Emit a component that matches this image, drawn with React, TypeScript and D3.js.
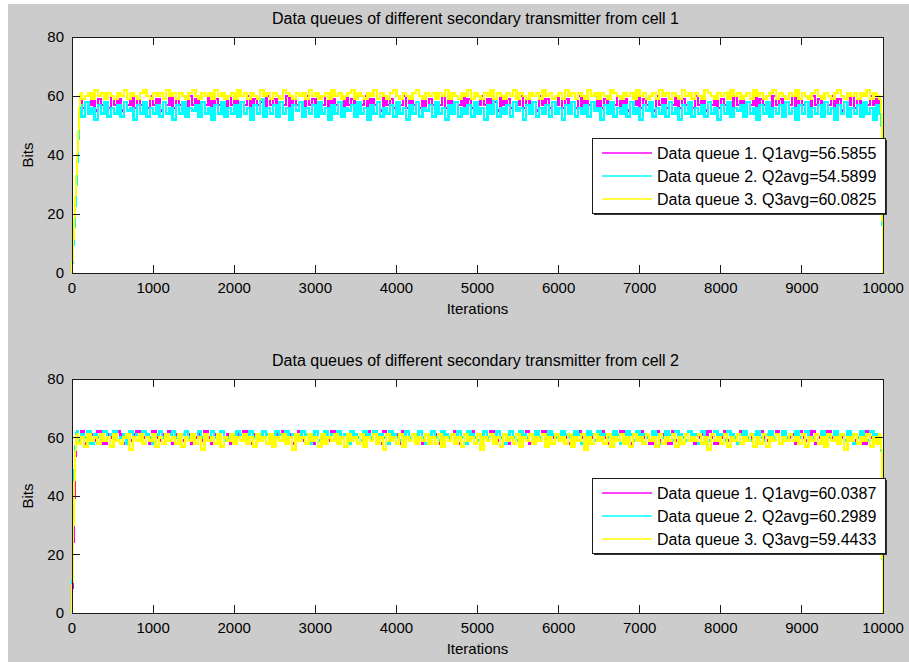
import React from 'react';
import * as d3 from 'd3';

const W = 909;
const H = 662;

const xTicks = [0, 1000, 2000, 3000, 4000, 5000, 6000, 7000, 8000, 9000, 10000];
const yTicks = [0, 20, 40, 60, 80];
const queueNames = ['Data queue 1.', 'Data queue 2.', 'Data queue 3.'];
const queueColors = ['#ff00ff', '#00ffff', '#ffff00'];
const titles = [
  'Data queues of different secondary transmitter from cell 1',
  'Data queues of different secondary transmitter from cell 2',
];
const cell1Avg = ['Q1avg=56.5855', 'Q2avg=54.5899', 'Q3avg=60.0825'];
const cell2Avg = ['Q1avg=60.0387', 'Q2avg=60.2989', 'Q3avg=59.4433'];

// start-up ramp (iteration, value)
const cell1RampIters = [0, 25, 50, 75];
const cell1RampQ1 = [0, 14, 28, 44];
const cell1RampQ2 = [0, 12, 26, 42];
const cell1RampQ3 = [0, 15, 30, 45];
const cell2RampIters = [0, 25];
const cell2RampQ1 = [0, 32];
const cell2RampQ2 = [0, 45];
const cell2RampQ3 = [0, 40];

const cell1SteadyStart = 100;
const cell2SteadyStart = 50;
const steadyEnd = 9980;
const finalIter = 10000;
const finalValue = 0;

// steady-state queue samples (evenly spaced between steady start and steadyEnd)
const cell1Q1 = [
  59,56,58,57,60,55,59,57,58,56,
  60,57,59,55,58,57,60,56,59,57,
  58,56,60,57,59,55,58,57,60,56,
  59,57,58,56,60,57,59,55,58,57,
  60,56,59,57,58,55,60,57,59,56,
  58,57,60,56,59,57,58,54,60,57,
  59,56,58,57,60,56,59,57,58,55,
  60,57,59,56,58,57,61,56,59,57,
  58,55,60,57,59,56,58,57,60,56,
  59,57,58,55,60,57,59,56,58,57,
  60,56,59,57,58,56,60,55,59,57,
  58,57,60,56,59,55,58,57,60,56,
  59,56,58,57,60,57,59,56,58,55,
  60,57,59,56,58,57,60,56,59,57,
  58,55,60,57,59,56,58,57,61,56,
  59,57,58,56,60,55,59,57,58,56,
  60,56,59,57,58,57,60,56,59,55,
  58,57,60,56,59,57,58,55,60,57,
  59,56,58,57,60,56,59,57,58,56,
  60,57,59,55,58,57,60,56,59,57,
  58,56,60,57,59,56,58,57,60,55,
  59,57,58,56,60,57,59,56,58,57,
  60,55,59,57,58,56,60,57,59,56,
  58,57,60,56,59,55,58,57,60,56,
  59,56,58,57,60,57,59,56,
];
const cell1Q2 = [
  57,53,58,54,56,52,57,54,58,53,
  56,54,57,53,58,55,56,52,57,54,
  58,53,56,54,57,53,58,54,56,52,
  57,54,58,53,56,55,57,53,58,54,
  56,52,57,54,58,53,56,54,57,53,
  58,54,56,52,57,54,59,53,56,54,
  57,53,58,54,56,52,57,55,58,53,
  56,54,57,53,58,54,56,52,57,54,
  58,53,56,55,57,53,58,54,56,52,
  57,54,58,53,56,54,57,53,58,54,
  56,52,57,54,58,53,56,55,57,53,
  58,54,56,52,57,54,58,53,56,54,
  57,53,58,54,56,52,57,54,59,53,
  56,54,57,53,58,55,56,52,57,54,
  58,53,56,54,57,53,58,54,56,52,
  57,54,58,53,56,54,57,53,58,55,
  56,52,57,54,58,53,56,54,57,53,
  58,54,56,52,57,55,58,53,56,54,
  57,53,58,54,56,52,57,54,58,53,
  56,54,57,53,58,54,56,52,57,54,
  58,53,56,55,57,53,58,54,56,52,
  57,54,58,53,56,54,57,53,58,54,
  56,52,57,54,58,53,56,54,57,53,
  58,54,56,52,57,54,58,53,56,54,
  57,53,58,54,56,52,57,54,
];
const cell1Q3 = [
  61,59,60,61,59,62,60,61,59,61,
  60,59,61,60,62,59,61,60,59,61,
  62,60,59,61,60,61,59,62,60,61,
  59,61,60,59,61,62,60,59,61,60,
  61,59,62,60,61,59,60,61,59,62,
  60,61,59,61,60,59,62,60,61,59,
  61,60,59,62,61,60,59,61,60,61,
  59,62,60,61,59,60,61,59,62,60,
  61,59,60,61,62,59,61,60,59,61,
  60,62,59,61,60,59,61,62,60,59,
  61,60,59,61,62,60,59,61,60,61,
  59,61,60,62,59,61,60,59,61,60,
  62,59,61,60,59,61,60,62,59,61,
  60,59,61,60,62,59,61,60,59,61,
  60,61,59,62,60,61,59,60,61,59,
  62,60,61,59,61,60,59,62,60,61,
  59,61,60,59,62,61,60,59,61,60,
  61,59,62,60,61,59,60,61,59,62,
  60,61,59,61,60,59,62,60,61,59,
  61,60,59,62,61,60,59,61,60,61,
  59,62,60,61,59,60,61,59,62,60,
  61,59,60,61,62,59,61,60,59,61,
  60,62,59,61,60,59,61,62,60,59,
  61,60,59,61,62,60,59,61,60,61,
  59,61,60,62,59,61,60,59,
];
const cell2Q1 = [
  61,59,62,58,60,61,59,62,60,58,
  61,60,59,62,61,58,60,59,61,62,
  59,60,61,58,62,60,59,61,60,62,
  58,61,60,59,62,61,58,60,61,59,
  62,60,58,61,59,62,60,61,58,60,
  61,59,62,60,58,61,60,59,62,61,
  60,58,61,59,62,60,61,58,60,62,
  59,61,60,58,62,59,61,60,59,62,
  61,58,60,61,59,62,60,58,61,60,
  62,59,61,60,58,62,61,59,60,61,
  58,62,60,59,61,60,62,58,61,59,
  60,61,58,62,60,59,61,62,58,60,
  61,59,62,60,61,58,60,59,62,61,
  59,60,61,58,62,60,59,61,60,62,
  58,61,60,59,62,61,58,60,61,59,
  62,60,58,61,59,62,60,61,58,60,
  61,59,62,60,58,61,60,59,62,61,
  60,58,61,59,62,60,61,58,60,62,
  59,61,60,58,62,59,61,60,59,62,
  61,58,60,61,59,62,60,58,61,60,
  62,59,61,60,58,62,61,59,60,61,
  58,62,60,59,61,60,62,58,61,59,
  60,61,58,62,60,59,61,62,58,60,
  61,59,62,60,61,58,60,59,62,61,
  59,60,61,58,62,60,59,61,60,
];
const cell2Q2 = [
  62,59,61,60,62,58,61,60,59,62,
  60,61,62,59,60,61,58,62,60,61,
  59,62,61,60,58,61,62,60,59,61,
  62,60,59,61,62,60,61,58,62,60,
  61,59,62,60,61,62,59,60,61,58,
  62,61,60,59,62,60,61,59,62,61,
  58,60,62,61,59,62,60,61,60,59,
  62,61,58,60,62,59,61,62,60,61,
  59,62,60,61,58,62,61,60,59,62,
  61,60,62,59,61,60,58,62,61,60,
  59,61,62,60,61,59,62,60,58,61,
  62,60,59,62,61,60,61,59,62,60,
  58,62,61,60,59,61,62,60,61,59,
  62,60,58,61,62,60,59,62,61,60,
  61,59,62,60,61,58,62,61,60,59,
  62,61,60,59,62,61,58,60,62,61,
  59,62,60,61,60,59,62,61,58,60,
  62,61,59,62,60,61,60,59,62,61,
  58,60,62,61,59,62,61,60,59,62,
  60,61,58,62,60,59,61,62,60,61,
  59,62,61,60,58,61,62,60,59,61,
  62,60,59,61,62,60,61,58,62,60,
  61,59,62,60,61,62,59,60,61,58,
  62,61,60,59,62,60,61,59,62,61,
  58,60,62,61,59,62,60,61,60,
];
const cell2Q3 = [
  61,58,60,57,61,59,60,58,61,59,
  60,57,61,59,58,60,61,56,60,59,
  61,58,60,59,61,57,60,58,61,59,
  60,58,61,57,60,59,61,58,60,56,
  61,59,60,58,61,57,60,59,61,58,
  60,59,61,58,60,57,61,59,60,58,
  61,57,60,59,61,58,60,56,61,59,
  60,58,61,59,60,57,61,58,60,59,
  61,58,60,57,61,59,60,58,61,57,
  60,59,61,58,60,56,61,59,60,58,
  61,57,60,59,61,58,60,59,61,58,
  60,58,61,57,60,59,61,58,60,57,
  61,59,60,58,61,56,60,59,61,58,
  60,57,61,59,60,58,61,57,60,59,
  61,58,60,59,61,57,60,58,61,59,
  60,58,61,57,60,59,61,56,60,58,
  61,59,60,58,61,57,60,59,61,58,
  60,57,61,59,60,58,61,59,60,57,
  61,58,60,59,61,57,60,58,61,59,
  60,59,61,58,60,56,61,59,60,58,
  61,57,60,59,61,58,60,59,61,57,
  60,58,61,57,60,59,61,58,60,59,
  61,59,60,58,61,57,60,59,61,58,
  60,57,61,59,60,58,61,56,60,59,
  61,58,60,59,61,57,60,58,61,
];

type Pt = [number, number];

function rampPoints(rampIters: number[], ramp: number[]): Pt[] {
  return rampIters.map((it, i) => [it, ramp[i]] as Pt);
}
function steadyPoints(start: number, steady: number[]): Pt[] {
  const step = (steadyEnd - start) / (steady.length - 1);
  return steady.map((v, i) => [start + i * step, v] as Pt);
}

function makeSeries(rampIters: number[], ramp: number[], start: number, steady: number[]) {
  const r = rampPoints(rampIters, ramp);
  const s = steadyPoints(start, steady);
  return {
    ramp: [...r, s[0]],
    steady: s,
    tail: [s[s.length - 1], [finalIter, finalValue] as Pt],
  };
}

const panels = [
  {
    title: titles[0],
    top: 37,
    bottom: 273,
    legendTop: 138,
    avg: cell1Avg,
    series: [
      makeSeries(cell1RampIters, cell1RampQ1, cell1SteadyStart, cell1Q1),
      makeSeries(cell1RampIters, cell1RampQ2, cell1SteadyStart, cell1Q2),
      makeSeries(cell1RampIters, cell1RampQ3, cell1SteadyStart, cell1Q3),
    ],
  },
  {
    title: titles[1],
    top: 379,
    bottom: 613,
    legendTop: 478,
    avg: cell2Avg,
    series: [
      makeSeries(cell2RampIters, cell2RampQ1, cell2SteadyStart, cell2Q1),
      makeSeries(cell2RampIters, cell2RampQ2, cell2SteadyStart, cell2Q2),
      makeSeries(cell2RampIters, cell2RampQ3, cell2SteadyStart, cell2Q3),
    ],
  },
];

const FONT = '"Liberation Sans", Arial, Helvetica, sans-serif';
const LEFT = 72;
const RIGHT = 883;
const TICK = 8;
const AXIS_COLOR = '#1a1a1a';

function Panel({ p }: { p: (typeof panels)[number] }) {
  const x = d3.scaleLinear().domain([0, 10000]).range([LEFT, RIGHT]);
  const y = d3.scaleLinear().domain([0, 80]).range([p.bottom, p.top]);
  const line = d3.line<Pt>().x((d) => x(d[0])).y((d) => y(d[1]));
  const stepLine = d3
    .line<Pt>()
    .x((d) => x(d[0]))
    .y((d) => y(d[1]))
    .curve(d3.curveStep);
  const lgLeft = 592;
  const lgW = 293;
  const lgH = 75;
  const rowOffsets = [15, 38, 61];
  return (
    <g>
      <rect x={LEFT} y={p.top} width={RIGHT - LEFT} height={p.bottom - p.top} fill="#ffffff" />
      <text x={(LEFT + RIGHT) / 2 - 2} y={p.top - 13} textAnchor="middle" fontSize={16} fontFamily={FONT} fill="#000">
        {p.title}
      </text>
      {p.series.map((s, i) => (
        <g key={i} stroke={queueColors[i]} fill="none" shapeRendering="crispEdges">
          <path d={line(s.ramp) || ''} strokeWidth={2} />
          <path d={stepLine(s.steady) || ''} strokeWidth={2.6} />
          <path d={line(s.tail) || ''} strokeWidth={2} />
        </g>
      ))}
      <rect x={LEFT} y={p.top} width={RIGHT - LEFT} height={p.bottom - p.top} fill="none" stroke={AXIS_COLOR} strokeWidth={1} shapeRendering="crispEdges" />
      {xTicks.map((t) => (
        <g key={'x' + t}>
          <line x1={x(t)} x2={x(t)} y1={p.bottom} y2={p.bottom - TICK} stroke={AXIS_COLOR} shapeRendering="crispEdges" />
          <line x1={x(t)} x2={x(t)} y1={p.top} y2={p.top + TICK} stroke={AXIS_COLOR} shapeRendering="crispEdges" />
          <text x={x(t)} y={p.bottom + 20} textAnchor="middle" fontSize={15} fontFamily={FONT} fill="#000">
            {t}
          </text>
        </g>
      ))}
      {yTicks.map((t) => (
        <g key={'y' + t}>
          <line x1={LEFT} x2={LEFT + TICK} y1={y(t)} y2={y(t)} stroke={AXIS_COLOR} shapeRendering="crispEdges" />
          <line x1={RIGHT} x2={RIGHT - TICK} y1={y(t)} y2={y(t)} stroke={AXIS_COLOR} shapeRendering="crispEdges" />
          <text x={64} y={y(t)} dy="0.36em" textAnchor="end" fontSize={15} fontFamily={FONT} fill="#000">
            {t}
          </text>
        </g>
      ))}
      <text x={(LEFT + RIGHT) / 2} y={p.bottom + 41} textAnchor="middle" fontSize={15} fontFamily={FONT} fill="#000">
        Iterations
      </text>
      <text
        transform={`translate(33,${(p.top + p.bottom) / 2}) rotate(-90)`}
        textAnchor="middle"
        fontSize={15}
        fontFamily={FONT}
        fill="#000"
      >
        Bits
      </text>
      <g>
        <rect x={lgLeft + 2} y={p.legendTop + 2} width={lgW} height={lgH} fill="#333" />
        <rect x={lgLeft} y={p.legendTop} width={lgW} height={lgH} fill="#ffffff" stroke={AXIS_COLOR} strokeWidth={1} shapeRendering="crispEdges" />
        {queueNames.map((n, i) => (
          <g key={n}>
            <line
              x1={lgLeft + 10}
              x2={lgLeft + 60}
              y1={p.legendTop + rowOffsets[i]}
              y2={p.legendTop + rowOffsets[i]}
              stroke={queueColors[i]}
              strokeWidth={1.3}
            />
            <text x={lgLeft + 65} y={p.legendTop + rowOffsets[i]} dy="0.36em" fontSize={16} fontFamily={FONT} fill="#000">
              {n} {p.avg[i]}
            </text>
          </g>
        ))}
      </g>
    </g>
  );
}

export default function App() {
  return (
    <div style={{ position: 'absolute', left: 0, top: 0 }}>
      <svg width={W} height={H} style={{ display: 'block' }}>
        <rect x={0} y={0} width={W} height={H} fill="#ffffff" />
        <rect x={8} y={4} width={W - 8} height={H - 4} fill="#cccccc" />
        {panels.map((p, i) => (
          <Panel key={i} p={p} />
        ))}
      </svg>
    </div>
  );
}
